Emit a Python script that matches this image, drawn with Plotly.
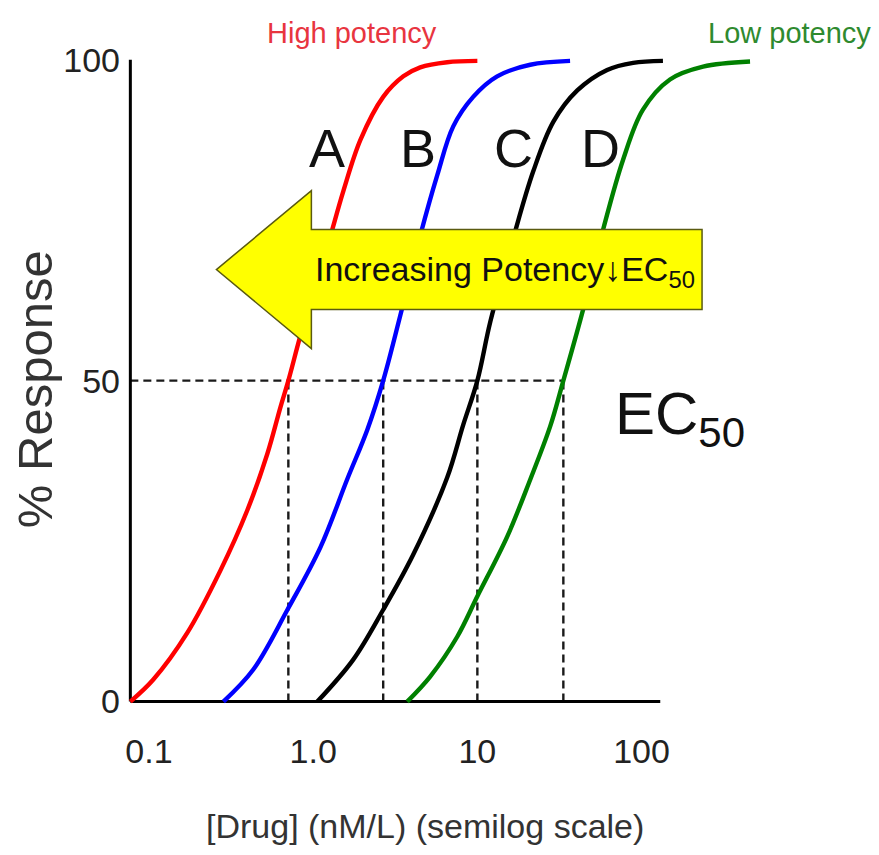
import math
import plotly.graph_objects as go

# ---------------- data ----------------
curve_names = ["A", "B", "C", "D"]
curve_colors = ["#ff0000", "#0000ff", "#000000", "#008000"]

conc_A = [0.077, 0.106, 0.171, 0.272, 0.397, 0.526, 0.631, 0.706, 0.836, 1.00, 1.24, 1.53, 1.94, 2.67, 3.54, 4.49, 6.55, 10.0]
resp_A = [0, 3.4, 10.7, 20.4, 29.8, 38.6, 45.8, 50, 57.0, 63.7, 71.5, 79.6, 87.5, 94.2, 97.4, 98.8, 99.6, 99.8]

conc_B = [0.284, 0.432, 0.697, 1.11, 1.61, 2.14, 2.67, 3.39, 4.49, 5.70, 7.13, 9.43, 13.2, 21.0, 36.7]
resp_B = [0, 5.0, 14.3, 24.1, 34.6, 42.4, 50, 60.1, 72.6, 82.0, 89.6, 94.2, 97.4, 99.2, 99.8]

conc_C = [1.06, 1.75, 2.67, 4.07, 6.55, 8.20, 10.0, 12.0, 16.5, 21.9, 29.0, 40.6, 61.7, 88.9, 135]
resp_C = [0, 6.5, 14.3, 22.9, 34.9, 43.1, 50, 59.2, 72.1, 82.6, 90.3, 95.2, 98.4, 99.5, 99.8]

conc_D = [3.74, 5.16, 7.54, 10.0, 15.2, 21.0, 27.8, 33.4, 44.1, 58.3, 77.2, 102, 149, 237, 458]
resp_D = [0, 3.9, 10.1, 16.4, 25.7, 34.6, 42.9, 50, 61.1, 73.5, 84.4, 92.2, 96.9, 98.9, 99.7]

ec50_values = [0.706, 2.67, 10.0, 33.4]
ec50_level = 50

x_tick_values = [0.1, 1, 10, 100]
x_tick_labels = ["0.1", "1.0", "10", "100"]
y_tick_values = [0, 50, 100]
y_tick_labels = ["0", "50", "100"]

axis_x_start = 0.077
axis_x_end = 130
axis_y_top = 100

# ---------------- layout geometry (pixels) ----------------
W, H = 879, 855
PL, PR, PT, PB = 125.5, 760.0, 50.4, 708.4
X_RANGE = [-1.140, 2.7215]
Y_RANGE = [-1, 101.5]

FONT = "Liberation Sans, Arial, sans-serif"
TXT = "#222222"


def paper(px, py):
    return (px - PL) / (PR - PL), (PB - py) / (PB - PT)


fig = go.Figure()

# dashed EC50 guides
fig.add_trace(go.Scatter(x=[axis_x_start, ec50_values[-1]], y=[ec50_level, ec50_level], mode="lines",
                         line=dict(color="#1a1a1a", width=2.4, dash="8px,5px"),
                         hoverinfo="skip", showlegend=False))
for ec in ec50_values:
    fig.add_trace(go.Scatter(x=[ec, ec], y=[0, ec50_level], mode="lines",
                             line=dict(color="#1a1a1a", width=2.4, dash="8px,5px"),
                             hoverinfo="skip", showlegend=False))

# axis lines
fig.add_trace(go.Scatter(x=[axis_x_start, axis_x_start], y=[0, axis_y_top], mode="lines",
                         line=dict(color="#000000", width=3), hoverinfo="skip", showlegend=False))
fig.add_trace(go.Scatter(x=[axis_x_start, axis_x_end], y=[0, 0], mode="lines",
                         line=dict(color="#000000", width=3), hoverinfo="skip", showlegend=False))

# dose-response curves
for name, cx, cy, col in zip(curve_names, [conc_A, conc_B, conc_C, conc_D],
                             [resp_A, resp_B, resp_C, resp_D], curve_colors):
    fig.add_trace(go.Scatter(x=cx, y=cy, mode="lines", name=name,
                             line=dict(color=col, width=4.4, shape="spline", smoothing=1.0),
                             showlegend=False))

# yellow arrow
arrow_px = [(216, 270), (311, 191), (311, 230), (702, 230), (702, 310), (311, 310), (311, 349)]
pts = [paper(x, y) for x, y in arrow_px]
path = "M " + " L ".join(f"{x:.4f},{y:.4f}" for x, y in pts) + " Z"
fig.add_shape(type="path", path=path, xref="paper", yref="paper",
              fillcolor="#ffff00", line=dict(color="#5a5a10", width=1.5), layer="above")

annotations = []


def ann(text, px, py, size, color=TXT, xanchor="center", yanchor="middle", angle=0):
    x, y = paper(px, py)
    annotations.append(dict(text=text, x=x, y=y, xref="paper", yref="paper", showarrow=False,
                            xanchor=xanchor, yanchor=yanchor, textangle=angle,
                            font=dict(size=size, color=color, family=FONT)))


ann("High potency", 352, 33, 29, color="#e8353f")
ann("Low potency", 790, 33, 29, color="#2f8a2f")
for letter, px in zip(curve_names, [327, 418, 513, 600]):
    ann(letter, px, 148, 54, color="#111111")
ann("Increasing Potency\u2193EC<sub>50</sub>", 505, 272, 34, color="#111111")
ann("EC<sub>50</sub>", 613, 418, 60, color="#111111", xanchor="left")
ann("% Response", 34, 390, 49, color="#333333", angle=-90)
ann("[Drug] (nM/L) (semilog scale)", 425, 826, 34, color="#333333")

fig.update_layout(
    width=W, height=H, autosize=False,
    margin=dict(l=PL, r=W - PR, t=PT, b=H - PB, pad=0),
    paper_bgcolor="white", plot_bgcolor="white",
    xaxis=dict(type="log", range=X_RANGE, showgrid=False, zeroline=False, showline=False,
               ticks="", tickvals=x_tick_values, ticktext=x_tick_labels,
               tickfont=dict(size=34, color=TXT, family=FONT), ticklabelstandoff=20),
    yaxis=dict(range=Y_RANGE, showgrid=False, zeroline=False, showline=False,
               ticks="", tickvals=y_tick_values, ticktext=y_tick_labels,
               tickfont=dict(size=34, color=TXT, family=FONT), ticklabelstandoff=5),
    annotations=annotations,
)

fig.write_html("out.html", config={"displayModeBar": False},
               post_script="document.body.style.margin='0';document.body.style.overflow='hidden';")
